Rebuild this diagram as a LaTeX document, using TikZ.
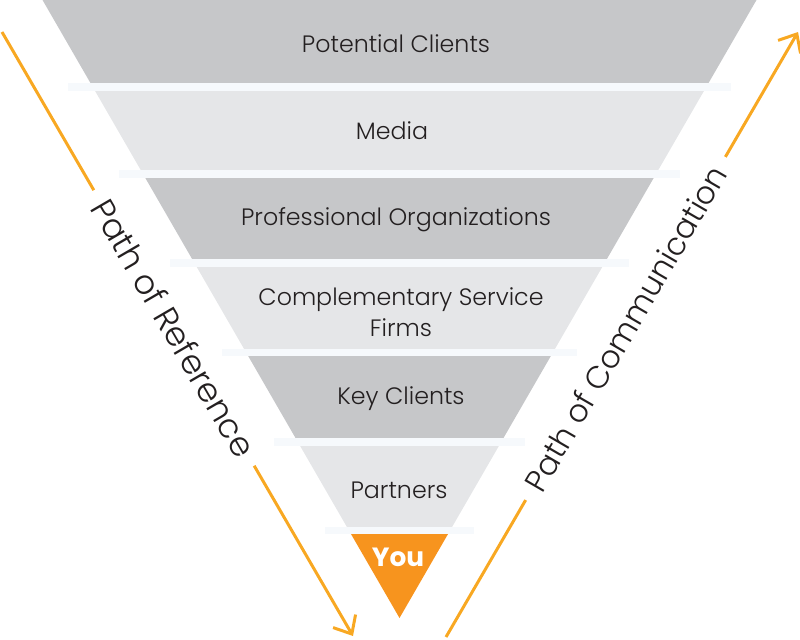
\documentclass[tikz,border=0pt]{standalone}
\usepackage{fontspec}
\setmainfont{Poppins}
\newfontfamily\lightfont{Poppins Light}
\usepackage{xcolor}
\usetikzlibrary{arrows.meta,calc}
\definecolor{funnelDark}{RGB}{198,199,201}
\definecolor{funnelLight}{RGB}{229,230,232}
\definecolor{stripeBlue}{RGB}{246,249,252}
\definecolor{youOrange}{RGB}{247,148,30}
\definecolor{pathOrange}{RGB}{248,168,34}
\definecolor{labelText}{RGB}{35,31,32}
\tikzset{
  band dark/.style={fill=funnelDark},
  band light/.style={fill=funnelLight},
  band gap/.style={fill=stripeBlue},
  band text/.style={text=labelText, align=center,
    font=\lightfont\fontsize{13.5}{17.6}\selectfont},
  you text/.style={text=white, font=\bfseries\fontsize{15}{18}\selectfont},
  path text/.style={text=labelText, inner xsep=0.26cm,
    font=\lightfont\fontsize{#1}{22}\selectfont}
}

\begin{document}
\begin{tikzpicture}[x=0.02cm, y=-0.02cm, declare function={hw(\y)=357*(1-\y/618);}]
        \useasboundingbox (0,0) rectangle (800,639);

        % funnel bands and the thin gaps between them
        \foreach \t/\b/\s in {0/83/band dark, 91/170/band light, 178/259/band dark,
                              267/349/band light, 356/438/band dark, 446/527/band light}
            \fill[\s] ({399.5-hw(\t)},\t) -- ({399.5+hw(\t)},\t)
                   -- ({399.5+hw(\b)},\b) -- ({399.5-hw(\b)},\b) -- cycle;
        \foreach \b/\n in {83/91, 170/178, 259/267, 349/356, 438/446, 527/534}
            \fill[band gap] ({399.5-hw(\b)-22},\b) rectangle ({399.5+hw(\b)+22},\n);
        \fill[youOrange] ({399.5-hw(534)},534) -- ({399.5+hw(534)},534) -- (399.5,618) -- cycle;

        \begin{scope}[every node/.style={band text}]
            \node (potential)  at (396,44)  {Potential Clients};
            \node (media)      at (392,131) {Media};
            \node (profOrg)    at (396,220) {Professional Organizations};
            \node (compFirms)  at (401,312) {Complementary Service\\Firms};
            \node (keyClients) at (401,399) {Key Clients};
            \node (partners)   at (399,490) {Partners};
        \end{scope}
        \node[you text] (you) at (398,557) {You};

        \coordinate (refA) at (2,32);
        \coordinate (refB) at (353,636);
        \coordinate (comA) at (446,637);
        \coordinate (comB) at (798,32);
        \node[path text=19, rotate=-59.8] (ref) at ($(refA)!0.49!(refB)$) {Path of Reference};
        \node[path text=17.8, rotate=59.8] (com) at ($(comA)!0.51!(comB)$) {Path of Communication};

        \begin{scope}[>={Straight Barb[length=0.3cm,width=0.52cm]}, every edge/.style={draw=pathOrange,line width=1.7pt}]
            \path (refA) edge (ref.west);
            \path [->] (ref.east) edge (refB);

            \path (comA) edge (com.west);
            \path [->] (com.east) edge (comB);
        \end{scope}
    \end{tikzpicture}
\end{document}
